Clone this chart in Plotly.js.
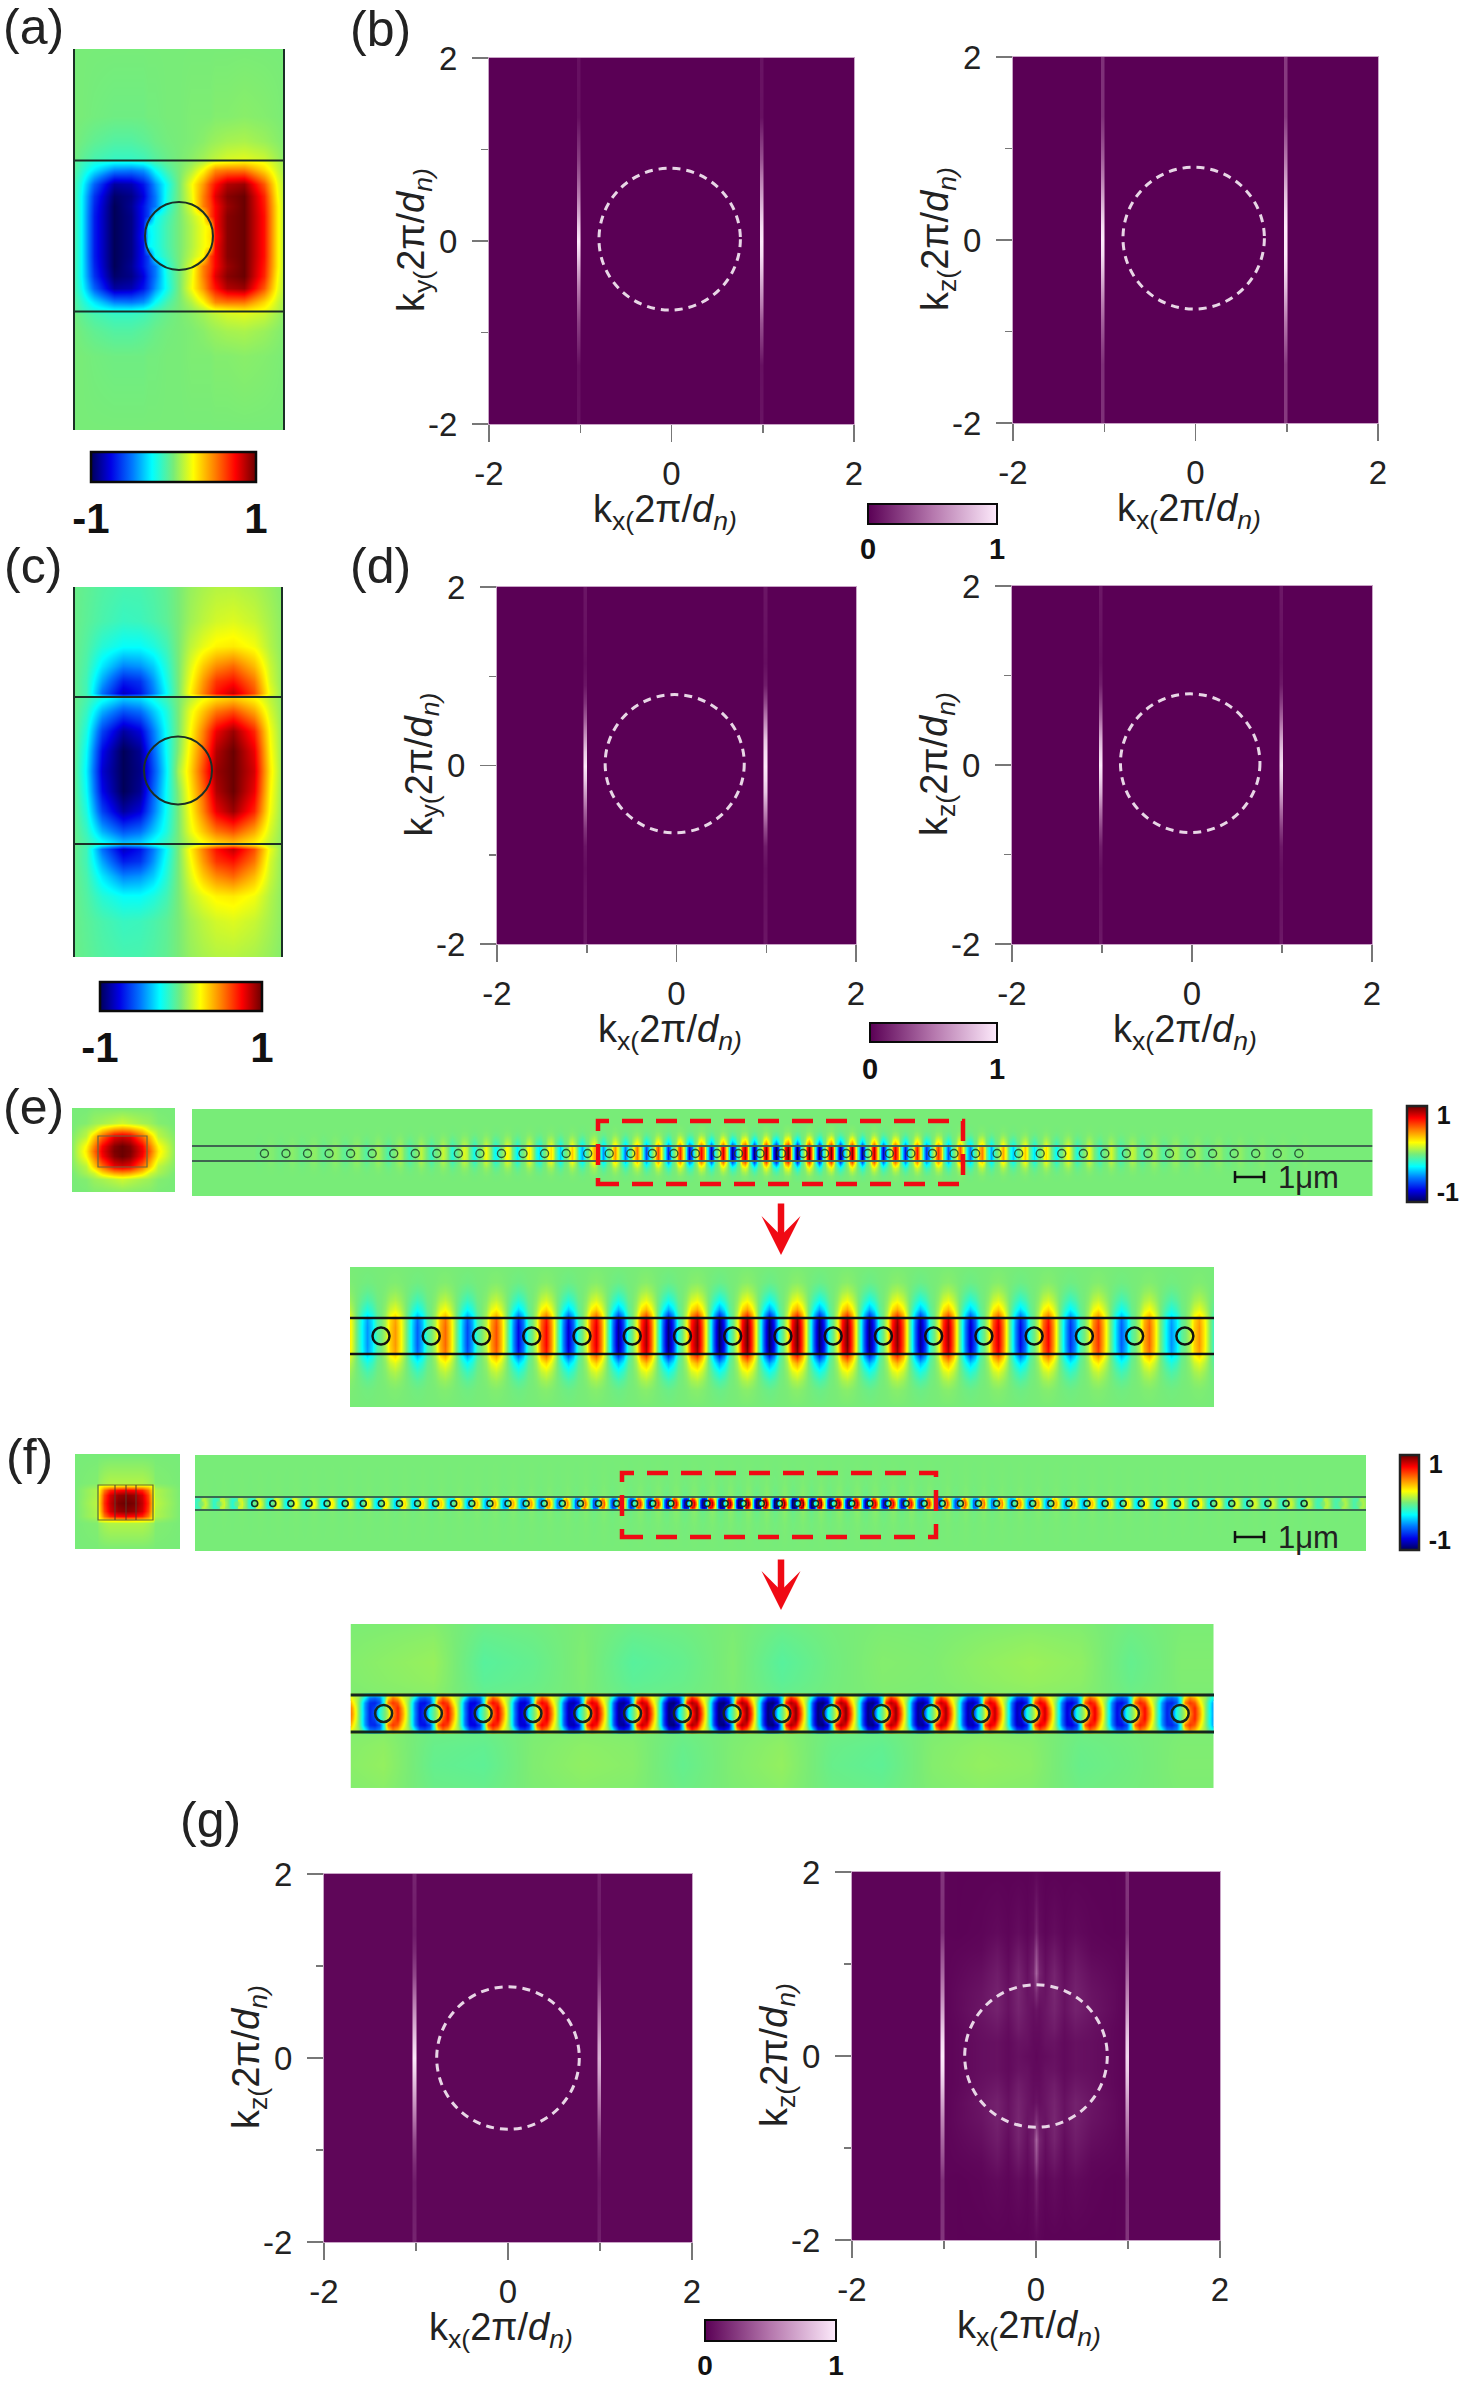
<!DOCTYPE html>
<html><head><meta charset="utf-8">
<script src="https://cdn.plot.ly/plotly-3.0.1.min.js"></script>
<style>html,body{margin:0;padding:0;background:#fff}</style>
</head><body><div id="chart" style="width:1459px;height:2382px"></div>
<script>
const W=1459,H=2382;
const FONT='"Liberation Sans", Arial, sans-serif';

/* ---------- field maps ---------- */
const aX=[-106,-98,-85,-65,-48,-36,-31,-24,-12,0,12,24,31,36,48,65,85,98,106];
const aYHalf=[-194,-120,-95,-78,-74,-66,-52,-40,-30,-20,-10,0];
const aRows=[
[0,0,0,0,0,0,0,0,0,0,0,0,0,0,0,0,0,0,0],
[0,0,-.01,-.02,-.02,-.02,-.01,-.01,0,0,.01,.01,.01,.02,.02,.03,.02,.01,0],
[0,-.02,-.05,-.08,-.08,-.06,-.05,-.03,-.01,0,.01,.03,.05,.06,.08,.09,.06,.03,.01],
[-.01,-.05,-.1,-.14,-.14,-.12,-.1,-.07,-.03,0,.03,.07,.1,.12,.16,.18,.14,.07,.02],
[-.05,-.12,-.2,-.25,-.25,-.22,-.18,-.12,-.05,0,.05,.12,.18,.22,.25,.28,.22,.12,.05],
[-.06,-.15,-.3,-.48,-.5,-.45,-.38,-.25,-.1,0,.1,.25,.38,.48,.52,.52,.32,.15,.06],
[-.08,-.22,-.55,-.88,-.85,-.72,-.62,-.45,-.22,0,.22,.45,.62,.72,.88,.92,.58,.22,.08],
[-.08,-.25,-.65,-.97,-.92,-.78,-.65,-.5,-.2,0,.2,.5,.65,.8,.95,1,.68,.25,.08],
[-.08,-.25,-.68,-1,-.9,-.72,-.62,-.5,-.18,0,.18,.5,.62,.75,.92,1,.7,.28,.08],
[-.08,-.25,-.7,-1,-.92,-.72,-.62,-.25,-.12,0,.12,.25,.62,.75,.95,1,.72,.28,.08],
[-.08,-.25,-.7,-1,-.92,-.72,-.28,-.22,-.1,0,.1,.22,.28,.75,.95,1,.72,.28,.08],
[-.08,-.25,-.7,-1,-.92,-.7,-.3,-.22,-.1,0,.1,.22,.3,.72,.95,1,.72,.28,.08]];

const cX=[-105,-92,-76,-55,-38,-25,-12,0,12,25,38,55,76,92,105];
const cYHalf=[-190,-150,-125,-105,-90,-78,-73,-60,-40,-20,0];
const cRows=[
[-.03,-.05,-.08,-.1,-.1,-.08,-.05,0,.05,.08,.1,.1,.08,.05,.02],
[-.03,-.06,-.1,-.14,-.13,-.1,-.06,0,.07,.12,.16,.18,.14,.08,.03],
[-.03,-.08,-.18,-.25,-.25,-.2,-.12,0,.12,.2,.26,.28,.22,.1,.03],
[-.03,-.1,-.3,-.48,-.45,-.35,-.18,0,.18,.35,.48,.55,.38,.14,.03],
[-.03,-.12,-.42,-.7,-.65,-.45,-.22,0,.22,.45,.65,.72,.52,.16,.03],
[-.03,-.12,-.52,-.82,-.72,-.5,-.26,0,.26,.5,.72,.85,.6,.2,.03],
[-.03,-.1,-.22,-.35,-.32,-.22,-.12,0,.12,.22,.3,.35,.25,.12,.03],
[-.03,-.14,-.4,-.58,-.52,-.36,-.2,0,.2,.36,.52,.6,.42,.16,.03],
[-.03,-.2,-.62,-.88,-.78,-.5,-.24,0,.24,.5,.78,.92,.68,.22,.03],
[-.03,-.25,-.75,-1,-.9,-.55,-.25,.02,.28,.55,.88,1,.78,.25,.03],
[-.03,-.28,-.8,-1,-.92,-.6,-.28,.08,.32,.62,.92,1,.82,.28,.03]];

const eSmallX=[-50,-36,-28,-20,-8,0,8,20,28,36,53];
const eSmallYHalf=[-43,-28,-22,-15,-5,0];
const eSmallRows=[
[0,0,.01,.01,.01,.01,.01,.01,.01,0,0],
[0,.02,.06,.08,.12,.15,.12,.08,.06,.02,0],
[0,.08,.15,.3,.42,.45,.42,.3,.15,.08,0],
[.02,.12,.35,.55,.78,.82,.78,.55,.35,.12,.02],
[.03,.25,.5,.75,.95,1,.95,.75,.5,.25,.03],
[.03,.28,.55,.78,.97,1,.97,.78,.55,.28,.03]];

const fSmallX=[-51,-29,-27,-22,-16,-8,0,8,16,22,27,29,55];
const fSmallYHalf=[-48,-20,-17,-13,-8,0];
const fSmallRows=[
[0,0,0,0,0,0,0,0,0,0,0,0,0],
[0,.02,.05,.08,.1,.1,.1,.1,.1,.08,.05,.02,0],
[0,.05,.22,.28,.3,.32,.34,.32,.3,.28,.22,.05,0],
[0,.1,.26,.52,.68,.74,.76,.74,.68,.52,.26,.1,0],
[0,.1,.3,.62,.82,.92,.95,.92,.82,.62,.3,.1,0],
[0,.12,.32,.66,.85,.97,1,.97,.85,.66,.32,.12,0]];

/* one period of the chain, offsets in periods around a hole */
const cellOffsets=[-.5,-.38,-.28,-.18,-.08,0,.08,.18,.28,.38];
const cellE=[0,-.6,-1,-.7,-.18,-.02,.2,.75,1,.62];
const profileEv=[-6,-4,-3,-2.5,-2,-1.5,-1.05,-.95,-.5,0,.5,.95,1.05,1.5,2,2.5,3,4,6];
const profileE=[0,0,.03,.1,.22,.42,.72,.95,1,1,1,.95,.72,.42,.22,.1,.03,0,0];
const cellFv=[-1,-.85,-.6,-.3,0,.3,.6,.85,1];
const cellFHalf=[
[.12,-.2,-.42,-.45,-.4,-.15,.25,.42,.3,.2],
[.08,-.35,-.7,-.75,-.65,-.3,.4,.7,.55,.25],
[.02,-.6,-.92,-.95,-.8,-.3,.7,.9,.8,.4],
[.02,-.62,-.95,-.85,-.3,-.08,.2,.75,.95,.55],
[.02,-.6,-.95,-.8,-.25,-.05,.12,.65,.95,.6]];

/* envelope per hole; the first value belongs to hole index ampStart */
const eStripStart=-4;
const eStripAmp=[0,0,0,0,.02,.03,.04,.05,.06,.08,.1,.12,.14,.18,.22,.25,.28,.3,.35,.4,.45,.52,.6,.68,.75,.82,.88,.95,1,1,.98,.95,.88,.8,.72,.65,.58,.5,.42,.35,.3,.25,.2,.16,.13,.1,.08,.06,.05,.04,.03,.02,.02,0,0,0,0];
const eZoomStart=-1;
const eZoomAmp=[.42,.45,.55,.6,.75,.8,.9,.95,1,1,.98,.95,.9,.82,.75,.65,.55,.45,.4];
const fStripStart=-4;
const fStripAmp=[.12,.14,.16,.18,.2,.22,.25,.25,.28,.28,.3,.3,.32,.32,.35,.35,.38,.4,.42,.45,.48,.5,.55,.6,.65,.7,.75,.8,.85,.9,.95,1,1,1,1,1,.95,.9,.85,.8,.75,.7,.65,.6,.55,.5,.48,.45,.42,.4,.38,.35,.32,.3,.28,.25,.25,.22,.2,.18,.16,.15,.14,.12,.1,.1,.08];
const fZoomStart=-1;
const fZoomAmp=[.7,.72,.78,.82,.85,.9,.95,1,1,1,1,.98,.95,.9,.88,.82,.78,.72,.6];
const fOutsideV=[-7.4,-3,-1.3,-1.05];
const fOutsideScale=[0,.01,.03,.08];
const fOuterIdx=[-1,0,1,2,3,4,5,6,7,8,9,10,11,12,13,14,15,16,17];
const fOuterTop=[.02,.05,.08,-.1,-.06,.02,-.1,-.06,.02,-.1,-.02,.03,.02,.06,.09,.06,-.06,.02,.02];
const fOuterBottom=[.03,.07,-.06,-.08,.02,.06,.04,-.06,.02,.07,-.05,-.08,.03,.07,.05,-.05,-.02,.02,.02];
const fOuterV=[1.05,1.8,2.8,3.8,5];
const fOuterScale=[.4,.6,.7,.5,.2];
const eHoleCount=49, fHoleCount=59, zoomHoleCount=17;

/* ---------- k-space stripes ---------- */
const kyGrid=[-2,-1.35,-1.15,-.9,-.7,-.5,-.3,-.15,0,.15,.3,.5,.7,.9,1.15,1.35,2];
const stripe={
 b1L:[.07,.06,.16,.26,.38,.52,.72,.88,1,.88,.72,.52,.38,.26,.16,.06,.07],
 b1R:[.08,.07,.2,.34,.52,.68,.85,.95,1,.95,.85,.68,.52,.34,.2,.07,.08],
 b2L:[.2,.2,.28,.4,.52,.68,.85,.95,1,.95,.85,.68,.52,.4,.28,.2,.2],
 b2R:[.24,.24,.36,.5,.66,.82,.95,1,1,1,.95,.82,.66,.5,.36,.24,.24],
 d1L:[.09,.07,.05,.09,.22,.42,.68,.88,1,.88,.68,.42,.22,.09,.05,.07,.09],
 d1R:[.09,.07,.06,.12,.32,.58,.85,.95,1,.95,.85,.58,.32,.12,.06,.07,.09],
 d2L:[.1,.07,.06,.12,.28,.48,.75,.9,1,.9,.75,.48,.28,.12,.06,.07,.1],
 d2R:[.1,.07,.06,.1,.25,.45,.7,.86,.95,.86,.7,.45,.25,.1,.06,.07,.1],
 g1L:[.15,.12,.18,.3,.46,.62,.78,.9,1,.9,.78,.62,.46,.3,.18,.12,.15],
 g1R:[.13,.1,.14,.22,.34,.48,.6,.7,.75,.7,.6,.48,.34,.22,.14,.1,.13],
 g2L:[.22,.2,.32,.44,.56,.7,.85,.95,1,.95,.85,.7,.56,.44,.32,.2,.22],
 g2R:[.22,.2,.3,.42,.54,.66,.8,.88,.92,.88,.8,.66,.54,.42,.3,.2,.22]
};
const kxStripeL=[-1.05,-1.032,-1.01,-.992];
const kxStripeR=[.958,.975,.997,1.015];
const g2InnerX=[-.85,-.6,-.42,-.3,-.2,-.1,-.03,0,.03,.1,.2,.3,.42,.6,.85];
/* top half, from ky=2 to ky=0, centre column in the middle */
const g2InnerRows=[
[.01,.01,.01,.01,.01,.01,.02,.03,.02,.01,.01,.01,.01,.01,.01],
[.01,.02,.04,.02,.05,.02,.05,.15,.05,.02,.05,.02,.04,.02,.01],
[.02,.03,.08,.03,.1,.04,.1,.3,.1,.04,.1,.03,.08,.03,.02],
[.03,.06,.12,.05,.15,.06,.15,.42,.15,.06,.15,.05,.12,.06,.03],
[.04,.08,.14,.07,.16,.08,.1,.2,.1,.08,.16,.07,.14,.08,.04],
[.04,.09,.14,.07,.15,.09,.06,.08,.06,.09,.15,.07,.14,.09,.04],
[.03,.07,.1,.05,.12,.08,.05,.05,.05,.08,.12,.05,.1,.07,.03],
[.03,.06,.07,.04,.08,.07,.04,.04,.04,.07,.08,.04,.07,.06,.03],
[.03,.06,.07,.04,.07,.05,.04,.03,.04,.05,.07,.04,.07,.06,.03]];
const kTicks=[-2,0,2], kMinor=[-1,1];

/* ---------- scales ---------- */
const jet=[[0,'#000058'],[.12,'#0000e6'],[.25,'#0078ff'],[.37,'#00ffff'],[.5,'#78ec78'],[.62,'#ffff00'],[.75,'#ff8000'],[.875,'#ff0000'],[1,'#6a0000']];
const purple=[[0,'#5a0055'],[.5,'#b577ad'],[1,'#fdeafb']];
const darkLine='#1b2f26';

/* ---------- helpers ---------- */
const px=v=>v/W, py=v=>1-v/H;
const layout={width:W,height:H,margin:{l:0,r:0,t:0,b:0,autoexpand:false},paper_bgcolor:'#fff',plot_bgcolor:'#fff',showlegend:false,
  font:{family:FONT,color:'#222'},shapes:[],annotations:[]};
const data=[];
let axN=0;
function addAxes(x0,x1,y0,y1,xr,yr,extra){
  axN++; const s=axN===1?'':axN;
  layout['xaxis'+s]=Object.assign({domain:[px(x0),px(x1)],range:xr,anchor:'y'+s,visible:false,fixedrange:true},extra||{});
  layout['yaxis'+s]=Object.assign({domain:[py(y1),py(y0)],range:yr,anchor:'x'+s,visible:false,fixedrange:true},extra||{});
  return {x:'x'+s,y:'y'+s};
}
function mirror(rows){return rows.concat(rows.slice(0,-1).reverse());}
function mirrorY(ys){return ys.concat(ys.slice(0,-1).reverse().map(v=>-v));}
function heat(a,x,y,z,cs,zmin,zmax,cb){
  const t={type:'heatmap',xaxis:a.x,yaxis:a.y,x,y,z,colorscale:cs,zmin,zmax,zsmooth:'best',hoverinfo:'skip',showscale:!!cb};
  if(cb)t.colorbar=cb;
  data.push(t);
}
function hBar(x0,x1,yTop,yBot,vals,size,gap,lw){
  return {orientation:'h',lenmode:'pixels',len:x1-x0,thicknessmode:'pixels',thickness:yBot-yTop,x:px(x0),xanchor:'left',y:py(yTop),yanchor:'top',
    xpad:0,ypad:0,outlinewidth:lw,outlinecolor:'#0a0a0a',borderwidth:0,tickmode:'array',tickvals:vals,ticktext:vals.map(String),ticks:'outside',ticklen:gap,tickcolor:'rgba(0,0,0,0)',
    tickfont:{family:FONT,size,weight:700,color:'#111'}};
}
function vBar(xLeft,xRight,y0,y1,size){
  return {orientation:'v',lenmode:'pixels',len:y1-y0,thicknessmode:'pixels',thickness:xRight-xLeft,x:px(xLeft),xanchor:'left',y:py(y0),yanchor:'top',
    xpad:0,ypad:0,outlinewidth:2.5,outlinecolor:'#222',tickmode:'array',tickvals:[-.8,.8],ticktext:['-1','1'],ticks:'outside',ticklen:4,tickcolor:'rgba(0,0,0,0)',
    tickfont:{family:FONT,size,weight:700,color:'#111'}};
}
function hline(a,x0,x1,y,w,c){layout.shapes.push({type:'line',xref:a.x,yref:a.y,x0,x1,y0:y,y1:y,line:{color:c||darkLine,width:w}});}
function vline(a,x,y0,y1,w,c){layout.shapes.push({type:'line',xref:a.x,yref:a.y,x0:x,x1:x,y0,y1,line:{color:c||darkLine,width:w}});}
function ring(a,r,c,w,dash,cx,cy){cx=cx||0;cy=cy||0;layout.shapes.push({type:'circle',xref:a.x,yref:a.y,x0:cx-r,x1:cx+r,y0:cy-r,y1:cy+r,line:{color:c,width:w,dash:dash||'solid'}});}
function note(text,x,y,size,opt){layout.annotations.push(Object.assign({text,xref:'paper',yref:'paper',x:px(x),y:py(y),xanchor:'center',yanchor:'middle',showarrow:false,font:{family:FONT,size,color:'#222'}},opt||{}));}
function chainColumns(start,n){const xs=[];for(let i=0;i<n;i++)for(const o of cellOffsets)xs.push(start+i+o);return xs;}
function chainRow(amp,cell,scale){const r=[];for(const v of amp)for(const c of cell)r.push(v*c*scale);return r;}
function holes(a,n,size,lw,color){
  const xs=[];for(let i=0;i<n;i++)xs.push(i);
  data.push({type:'scatter',mode:'markers',xaxis:a.x,yaxis:a.y,x:xs,y:xs.map(()=>0),hoverinfo:'skip',
    marker:{symbol:'circle-open',size,color,line:{width:lw,color}}});
}
function redBox(x0,x1,y0,y1){layout.shapes.push({type:'rect',xref:'paper',yref:'paper',x0:px(x0),x1:px(x1),y0:py(y1),y1:py(y0),line:{color:'#f00a14',width:4.5,dash:'21px,13px'}});}
function arrow(x,y0,y1){layout.annotations.push({text:'',xref:'paper',yref:'paper',axref:'pixel',ayref:'pixel',x:px(x),y:py(y1),ax:0,ay:y0-y1,showarrow:true,arrowhead:3,arrowsize:1,arrowwidth:6.5,arrowcolor:'#f00a14'});}
function scaleBar(x0,x1,y){
  for(const sh of [[x0,x1,y,y],[x0,x0,y-6,y+6],[x1,x1,y-6,y+6]])
    layout.shapes.push({type:'line',xref:'paper',yref:'paper',x0:px(sh[0]),x1:px(sh[1]),y0:py(sh[2]),y1:py(sh[3]),line:{color:'#111',width:2.5}});
  note('1μm',x1+44,y,31);
}
const kAxis={visible:true,tickmode:'array',tickvals:kTicks,ticktext:kTicks.map(String),ticks:'outside',tickwidth:1.5,tickcolor:'#777',
  showgrid:false,zeroline:false,showline:true,mirror:true,linecolor:'#c8a4c6',linewidth:1,
  tickfont:{family:FONT,size:33,color:'#222'},minor:{tickmode:'array',tickvals:kMinor,ticks:'outside',ticklen:8,tickwidth:1.5,tickcolor:'#777',showgrid:false}};
function kPanel(x0,x1,y0,y1,L,R,ylab,bar,base,innerRows,ringShift){
  axN++; const s=axN===1?'':axN;
  layout['xaxis'+s]=Object.assign({},kAxis,{domain:[px(x0),px(x1)],range:[-2,2],anchor:'y'+s,ticklen:17,ticklabelstandoff:3,fixedrange:true});
  layout['yaxis'+s]=Object.assign({},kAxis,{domain:[py(y1),py(y0)],range:[-2,2],anchor:'x'+s,ticklen:16,ticklabelstandoff:8,fixedrange:true,minor:Object.assign({},kAxis.minor,{ticklen:7})});
  const a={x:'x'+s,y:'y'+s};
  const inner=innerRows?g2InnerX:[];
  const xs=[-2].concat(kxStripeL,inner,kxStripeR,[2]);
  const iR=innerRows?mirror(innerRows):null;
  const z=kyGrid.map((_,j)=>{
    const mid=innerRows?iR[j]:[];
    return [base,base,L[j],L[j],base].concat(mid,[base,R[j],R[j],base,base]);
  });
  heat(a,xs,kyGrid,z,purple,0,1,bar);
  const sh=ringShift===undefined?.02:ringShift;
  ring(a,.775,'#e8d6e6',3,'8px,6px',-sh,sh);
  note('k<sub>'+ylab+'(</sub>2π/<i>d</i><sub><i>n)</i></sub>',x0-75,(y0+y1)/2-1,38,{textangle:-90});
  note('k<sub>x(</sub>2π/<i>d</i><sub><i>n)</i></sub>',(x0+x1)/2-7,y1+88,38);
}

/* ---------- (a) ---------- */
let a=addAxes(73,285,49,430,[-106,106],[-194,187]);
heat(a,aX,mirrorY(aYHalf),mirror(aRows),jet,-1,1,hBar(91,256,452,482,[-1,1],42,0,2.5));
hline(a,-106,106,75.5,2.2);hline(a,-106,106,-75.5,2.2);
vline(a,-105,-194,187,2);vline(a,105,-194,187,2);
ring(a,34,darkLine,2);

/* ---------- (b) ---------- */
kPanel(489,854,58,424,stripe.b1L,stripe.b1R,'y',hBar(868,997,504,524,[0,1],29,0,2),0);
kPanel(1013,1378,57,423,stripe.b2L,stripe.b2R,'z',null,0);

/* ---------- (c) ---------- */
a=addAxes(73,283,587,957,[-105,105],[-186.5,183.5]);
heat(a,cX,mirrorY(cYHalf),mirror(cRows),jet,-1,1,hBar(100,262,982,1011,[-1,1],42,0,2.5));
hline(a,-105,105,73.5,2.2);hline(a,-105,105,-73.5,2.2);
vline(a,-104,-186.5,183.5,2);vline(a,104,-186.5,183.5,2);
ring(a,34,darkLine,2);

/* ---------- (d) ---------- */
kPanel(497,856,587,944,stripe.d1L,stripe.d1R,'y',hBar(870,997,1023,1042,[0,1],29,2,2),0);
kPanel(1012,1372,586,944,stripe.d2L,stripe.d2R,'z',null,0);

/* ---------- (e) ---------- */
a=addAxes(72,175,1108,1192,[-50,53],[-41,43]);
heat(a,eSmallX,mirrorY(eSmallYHalf),mirror(eSmallRows),jet,-1,1);
layout.shapes.push({type:'rect',xref:a.x,yref:a.y,x0:-24,x1:25,y0:-16,y1:15,line:{color:'#6a6a3c',width:1.2}});

a=addAxes(192,1372.5,1109,1196,[-3.36,51.42],[-5.67,5.93]);
{const xs=chainColumns(eStripStart,eStripAmp.length);
 heat(a,xs,profileEv,profileE.map(p=>chainRow(eStripAmp,cellE,p)),jet,-1,1,vBar(1407,1427,1106,1202,25));}
hline(a,-3.36,51.42,1,2.2,'#3f6650');hline(a,-3.36,51.42,-1,2.2,'#3f6650');
holes(a,eHoleCount,8,1.4,'rgba(30,65,45,.85)');
redBox(598,963,1121,1184);
scaleBar(1235,1264,1177);
arrow(781,1202,1255);

a=addAxes(350,1214,1267,1407,[-.617,16.58],[-3.94,3.83]);
{const xs=chainColumns(eZoomStart,eZoomAmp.length);
 heat(a,xs,profileEv,profileE.map(p=>chainRow(eZoomAmp,cellE,p)),jet,-1,1);}
hline(a,-.617,16.58,1,2.6,'#111');hline(a,-.617,16.58,-1,2.6,'#111');
holes(a,zoomHoleCount,17,2.5,'#111');

/* ---------- (f) ---------- */
a=addAxes(75,180,1454,1549,[-50.5,54.5],[-46.5,48.5]);
heat(a,fSmallX,mirrorY(fSmallYHalf),mirror(fSmallRows),jet,-1,1);
layout.shapes.push({type:'rect',xref:a.x,yref:a.y,x0:-27.5,x1:27.5,y0:-17.5,y1:17.5,line:{color:'#5a6a3c',width:1.2}});
for(const vx of [-10.5,.5,10.5])vline(a,vx,-17.5,17.5,1,'#5a3a2c');

a=addAxes(195,1366,1455,1551,[-3.3,61.42],[-7.3,7.46]);
{const xs=chainColumns(fStripStart,fStripAmp.length);
 const cellAll=mirror(cellFHalf);
 const ys=fOutsideV.concat(cellFv,fOutsideV.slice().reverse().map(v=>-v));
 const z=[];
 fOutsideV.forEach((v,i)=>z.push(chainRow(fStripAmp,cellFHalf[4],fOutsideScale[i])));
 cellAll.forEach(c=>z.push(chainRow(fStripAmp,c,1)));
 fOutsideV.slice().reverse().forEach((v,i)=>z.push(chainRow(fStripAmp,cellFHalf[4],fOutsideScale[fOutsideScale.length-1-i])));
 heat(a,xs,ys,z,jet,-1,1,vBar(1400,1419,1455,1550,25));}
hline(a,-3.3,61.42,1,2.2,'#3a6a50');hline(a,-3.3,61.42,-1,2.2,'#3a6a50');
holes(a,fHoleCount,6,1.6,'rgba(15,40,32,.95)');
redBox(622,936,1473,1537);
scaleBar(1235,1264,1537);
arrow(781,1558,1610);

a=addAxes(350.5,1214,1624,1788,[-.665,16.68],[-4.03,4.84]);
heat(a,fOuterIdx,fOuterV,fOuterScale.map(s=>fOuterTop.map(v=>v*s)),jet,-1,1);
heat(a,fOuterIdx,fOuterV.map(v=>-v).reverse(),fOuterScale.slice().reverse().map(s=>fOuterBottom.map(v=>v*s)),jet,-1,1);
{const xs=chainColumns(fZoomStart,fZoomAmp.length);
 heat(a,xs,cellFv,mirror(cellFHalf).map(c=>chainRow(fZoomAmp,c,1)),jet,-1,1);}
hline(a,-.665,16.68,1,3,'#15261e');hline(a,-.665,16.68,-1,3,'#15261e');
holes(a,zoomHoleCount,17,2.5,'#15261e');

/* ---------- (g) ---------- */
kPanel(324,692,1874,2242,stripe.g1L,stripe.g1R,'z',hBar(705,836,2320,2341,[0,1],28,0,2),.025,null,0);
kPanel(852,1220,1872,2240,stripe.g2L,stripe.g2R,'z',null,.015,g2InnerRows,0);

/* ---------- panel letters ---------- */
const panelLabels=[['(a)',33,27],['(b)',380,29],['(c)',33,566],['(d)',380,566],['(e)',33,1107],['(f)',29,1457],['(g)',210,1820]];
for(const p of panelLabels)note(p[0],p[1],p[2],50);

Plotly.newPlot('chart',data,layout,{displayModeBar:false,staticPlot:true});
</script></body></html>
